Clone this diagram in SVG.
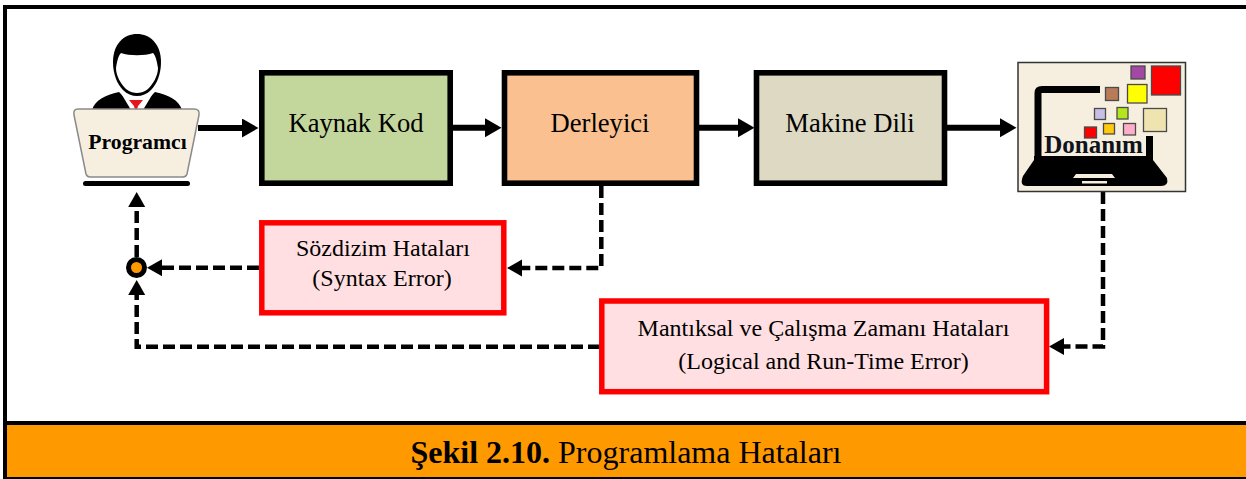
<svg xmlns="http://www.w3.org/2000/svg" width="1246" height="479" viewBox="0 0 1246 479">
<style>
text{font-family:"Liberation Serif","Times New Roman",serif;fill:#000;text-anchor:middle}
.big{font-size:26.6px}
.sm{font-size:24px}
.proc{stroke:#000;stroke-width:5.600}
.err{stroke:#f00;stroke-width:5.500;fill:#ffdfe2}
.solid{fill:none;stroke:#000;stroke-width:6}
.dash{fill:none;stroke:#000;stroke-width:4.500;stroke-dasharray:12 5}
.sq{stroke:#4a4a4a;stroke-width:1.300}
</style>
<defs>
<marker id="a" markerUnits="userSpaceOnUse" markerWidth="18" markerHeight="20" refX="1" refY="9.500" orient="auto"><path d="M0 0L16.500 9.500L0 19Z" fill="#000"/></marker>
<marker id="d" markerUnits="userSpaceOnUse" markerWidth="17" markerHeight="18" refX="1" refY="8.500" orient="auto"><path d="M0 0L15 8.500L0 17Z" fill="#000"/></marker>
</defs>
<rect width="1246" height="479" fill="#fff"/>
<g id="frame">
<rect x="5" y="7" width="1245" height="470" fill="#fff" stroke="#000" stroke-width="4"/>
<rect x="7" y="425" width="1239" height="52" fill="#f90"/>
<rect x="3" y="421" width="1243" height="4" fill="#000"/>
<rect x="3" y="477" width="1243" height="2" fill="#000"/>
</g>
<g id="connectors">
<path class="solid" marker-end="url(#a)" d="M198 128H243"/>
<path class="solid" marker-end="url(#a)" d="M452 127.700H486"/>
<path class="solid" marker-end="url(#a)" d="M698 127.700H739"/>
<path class="solid" marker-end="url(#a)" d="M947 127.700H1001"/>
<path class="dash" marker-end="url(#d)" d="M601.300 186V268H521"/>
<path class="dash" marker-end="url(#d)" d="M1103 192V346.500H1063"/>
<path class="dash" marker-end="url(#d)" d="M259 267.700H161"/>
<path class="dash" marker-end="url(#d)" d="M600 346.700H136.700V294"/>
<path class="dash" marker-end="url(#d)" d="M136.700 257V206"/>
</g>
<g id="junction"><circle cx="136.500" cy="267.500" r="8" fill="#f90" stroke="#000" stroke-width="5"/></g>
<g id="programci">
<path d="M92 110C95 100 105 95 119 92L137 110Z M182 110C179 100 169 95 155 92L137 110Z" fill="#000"/>
<path d="M119 90H155L143 110H131Z" fill="#fff"/>
<path d="M129 100H143L138 106L137 110H135L134 106Z" fill="#e8141c"/>
<path d="M113 62C113 44 124 34 137 34C150 34 161 44 161 62C161 74 157 84 151 90C147 94 142 96 137 96C132 96 127 94 123 90C117 84 113 74 113 62Z" fill="#000"/>
<path d="M116 68C117 62 118 56 121 53C129 56 145 56 153 53C156 56 157 62 158 68C158 76 153 84 148 89C144 92 140 93 137 93C134 93 130 92 126 89C121 84 116 76 116 68Z" fill="#fff"/>
<path d="M78 109H194Q200 109 199 115L187 174Q186 177 183 177H90Q87 177 86 174L74 115Q73 109 78 109Z" fill="#f6efdf" stroke="#8a8a8a" stroke-width="1.500"/>
<rect x="83" y="181" width="107" height="5" rx="2.500" fill="#000"/>
<text x="137.500" y="149" style="font-size:21.700px;font-weight:bold">Programcı</text>
</g>
<g id="kaynak"><rect class="proc" x="261.800" y="72.800" width="188.400" height="110.400" fill="#c3d69b"/><text class="big" x="356" y="132">Kaynak Kod</text></g>
<g id="derleyici"><rect class="proc" x="504.500" y="72.800" width="192" height="110.400" fill="#fac090"/><text class="big" x="600" y="132">Derleyici</text></g>
<g id="makine"><rect class="proc" x="756.500" y="72.800" width="188" height="110.400" fill="#ddd9c3"/><text class="big" x="850" y="132">Makine Dili</text></g>
<g id="donanim">
<rect x="1018" y="62.500" width="167.500" height="129" fill="#f6efdf" stroke="#333" stroke-width="1.500"/>
<path d="M1100 89.500H1042Q1038 89.500 1038 93V157M1149.500 136V157" fill="none" stroke="#000" stroke-width="7"/>
<path d="M1034 156H1146V154H1153V160L1167 178Q1169 186 1161 186H1027Q1019 186 1023 176L1034 160Z" fill="#000"/>
<path d="M1076 174H1112L1115 178H1073Z M1082 181H1107V183.500H1082Z" fill="#f6efdf"/>
<rect class="sq" x="1131" y="66" width="14" height="13" fill="#a349a4"/>
<rect class="sq" x="1151.500" y="66" width="29" height="29" fill="#f00"/>
<rect class="sq" x="1127.500" y="84.500" width="19.500" height="18.500" fill="#ff0"/>
<rect class="sq" x="1105.500" y="87.500" width="13" height="13" fill="#b97a57"/>
<rect class="sq" x="1143.500" y="108.500" width="23" height="23" fill="#efe4b0"/>
<rect class="sq" x="1117" y="107.500" width="11" height="11.500" fill="#b5e61d"/>
<rect class="sq" x="1094.500" y="108.500" width="11" height="11" fill="#c8bfe7"/>
<rect class="sq" x="1103.500" y="123.500" width="11" height="10.500" fill="#ffc90e"/>
<rect class="sq" x="1123.500" y="123.500" width="12" height="11.500" fill="#ffaec9"/>
<rect class="sq" x="1084.500" y="127" width="12" height="11" fill="#f00"/>
<text x="1093.500" y="153" style="font-size:25px;font-weight:bold;fill:#10131c">Donanım</text>
</g>
<g id="sozdizim"><rect class="err" x="261.800" y="222.800" width="242" height="90"/><text class="sm" x="383" y="256">Sözdizim Hataları</text><text class="sm" x="382" y="286">(Syntax Error)</text></g>
<g id="mantiksal"><rect class="err" x="601.800" y="301" width="444.800" height="90.700"/><text class="sm" x="823.500" y="336">Mantıksal ve Çalışma Zamanı Hataları</text><text class="sm" x="823.500" y="369">(Logical and Run-Time Error)</text></g>
<g id="caption"><text x="626" y="463" style="font-size:32px"><tspan font-weight="bold">Şekil 2.10.</tspan> Programlama Hataları</text></g>
</svg>
